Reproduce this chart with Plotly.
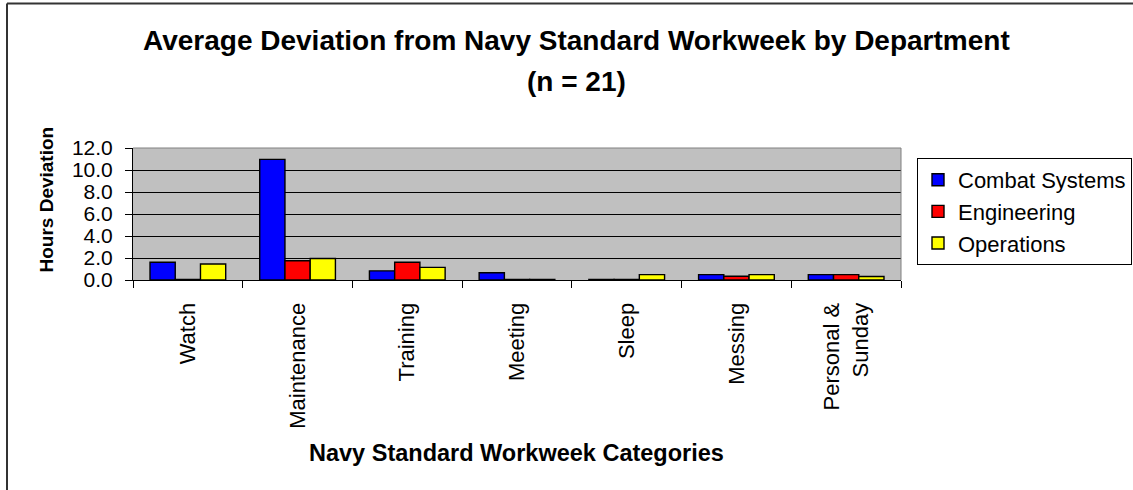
import plotly.graph_objects as go

categories = ["Watch", "Maintenance", "Training", "Meeting", "Sleep", "Messing", "Personal &<br>Sunday"]
series_names = ["Combat Systems", "Engineering", "Operations"]
combat_systems = [1.62, 10.97, 0.83, 0.66, 0.05, 0.49, 0.49]
engineering = [0.05, 1.75, 1.62, 0.05, 0.05, 0.34, 0.49]
operations = [1.45, 1.95, 1.15, 0.05, 0.49, 0.49, 0.32]
y_ticks = [0, 2, 4, 6, 8, 10, 12]
y_tick_labels = ["0.0", "2.0", "4.0", "6.0", "8.0", "10.0", "12.0"]

colors = ["#0000FF", "#FF0000", "#FFFF00"]
FONT = "Liberation Sans, Arial, sans-serif"

W, H = 1133, 490
L, R, T, B = 133, 232, 148, 210
PW, PH = W - L - R, H - T - B


def px(x):
    return (x - L) / PW


def py(y):
    return (H - B - y) / PH


fig = go.Figure()
for name, vals, col in zip(series_names, [combat_systems, engineering, operations], colors):
    fig.add_trace(go.Bar(
        x=categories, y=vals, name=name, legendgroup=name,
        marker=dict(color=col, line=dict(color="#000000", width=1.4)),
    ))

fig.update_layout(
    width=W, height=H,
    margin=dict(l=L, r=R, t=T, b=B, autoexpand=False),
    paper_bgcolor="#FFFFFF",
    plot_bgcolor="#C0C0C0",
    barmode="group", bargap=0.31, bargroupgap=0,
    font=dict(family=FONT, color="#000000"),
    showlegend=True,
    legend=dict(
        x=px(917), y=py(158), xanchor="left", yanchor="top",
        bgcolor="#FFFFFF", bordercolor="#000000", borderwidth=1,
        font=dict(size=22, family=FONT, color="#000000"),
        tracegroupgap=10, itemwidth=30, traceorder="normal",
    ),
    xaxis=dict(
        showline=True, linecolor="#000000", linewidth=1,
        ticks="outside", tickson="boundaries", ticklen=7, tickcolor="#000000",
        tickangle=-90, tickfont=dict(size=22, family=FONT),
        showgrid=False, ticklabelstandoff=13,
    ),
    yaxis=dict(
        range=[0, 12], tickvals=y_ticks, ticktext=y_tick_labels,
        showline=True, linecolor="#000000", linewidth=1,
        ticks="outside", ticklen=7, tickcolor="#000000",
        tickfont=dict(size=21, family=FONT),
        showgrid=True, gridcolor="#000000", gridwidth=1,
        zeroline=False, ticklabelstandoff=8,
    ),
    annotations=[
        dict(text="<b>Average Deviation from Navy Standard Workweek by Department</b>",
             xref="paper", yref="paper", x=px(576), y=py(40), xanchor="center", yanchor="middle",
             showarrow=False, font=dict(size=28, family=FONT)),
        dict(text="<b>(n = 21)</b>",
             xref="paper", yref="paper", x=px(576), y=py(81), xanchor="center", yanchor="middle",
             showarrow=False, font=dict(size=28, family=FONT)),
        dict(text="<b>Hours Deviation</b>", textangle=-90,
             xref="paper", yref="paper", x=px(45.5), y=py(200), xanchor="center", yanchor="middle",
             showarrow=False, font=dict(size=19, family=FONT)),
        dict(text="<b>Navy Standard Workweek Categories</b>",
             xref="paper", yref="paper", x=px(516.5), y=py(453), xanchor="center", yanchor="middle",
             showarrow=False, font=dict(size=23.5, family=FONT)),
    ],
    shapes=[
        # plot area top/right border
        dict(type="line", xref="paper", yref="paper", x0=0, x1=1, y0=1, y1=1,
             line=dict(color="#808080", width=1)),
        dict(type="line", xref="paper", yref="paper", x0=1, x1=1, y0=0, y1=1,
             line=dict(color="#808080", width=1)),
        # outer chart border (top and left)
        dict(type="line", xref="paper", yref="paper", x0=px(7), x1=px(1140), y0=py(3.5), y1=py(3.5),
             line=dict(color="#333333", width=2)),
        dict(type="line", xref="paper", yref="paper", x0=px(7), x1=px(7), y0=py(3.5), y1=py(495),
             line=dict(color="#333333", width=2)),
    ],
)

fig.write_html(
    "out.html",
    config={"displayModeBar": False},
    post_script="document.body.style.margin='0';document.body.style.overflow='hidden';",
)
